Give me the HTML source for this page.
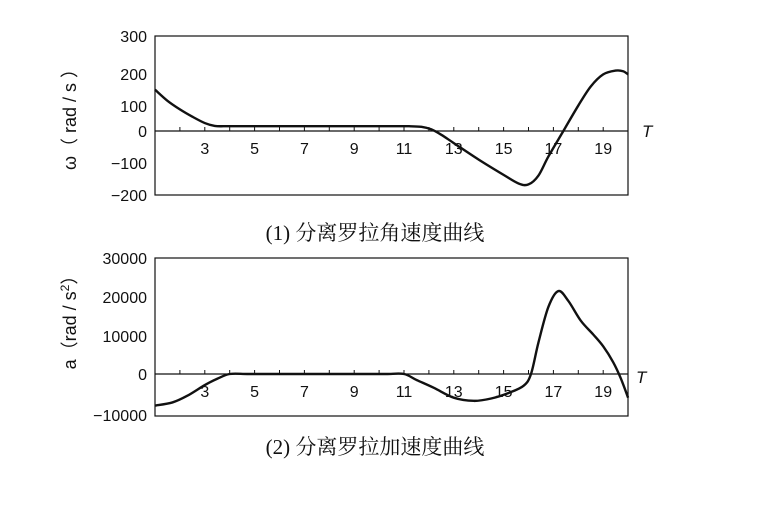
<!DOCTYPE html>
<html><head><meta charset="utf-8"><style>
body{margin:0;background:#fff;}
svg text{font-family:"Liberation Sans","Noto Sans CJK SC",sans-serif;fill:#111;}
.cap{font-family:"Liberation Serif","Noto Serif CJK SC",serif;font-size:21px;}
</style></head><body>
<svg id="s" width="760" height="502" xmlns="http://www.w3.org/2000/svg">
<g stroke="#111" fill="none" stroke-width="1.2">
<rect x="155" y="36" width="473" height="159"/>
<line x1="155" y1="131" x2="628" y2="131"/>
<rect x="155" y="258" width="473" height="158"/>
<line x1="155" y1="374" x2="628" y2="374"/>
</g>
<g id="ticks" stroke="#111" stroke-width="1"></g>
<g font-size="16" text-anchor="end">
<text x="147" y="42">300</text><text x="147" y="80">200</text><text x="147" y="112">100</text>
<text x="147" y="137">0</text><text x="147" y="169">−100</text><text x="147" y="201">−200</text>
<text x="147" y="264">30000</text><text x="147" y="303">20000</text><text x="147" y="342">10000</text>
<text x="147" y="380">0</text><text x="147" y="421">−10000</text>
</g>
<g font-size="16" text-anchor="middle" id="xl"></g>
<text x="642" y="137" font-size="17" font-style="italic">T</text>
<text x="636" y="383" font-size="17" font-style="italic">T</text>
<text transform="translate(76,115) rotate(-90)" font-size="18" text-anchor="middle">ω（ rad / s ）</text>
<text transform="translate(76,318) rotate(-90)" font-size="18" text-anchor="middle">a（rad / s<tspan font-size="12" dy="-7">2</tspan><tspan dy="7">）</tspan></text>
<text class="cap" x="375" y="240" text-anchor="middle">(1) 分离罗拉角速度曲线</text>
<text class="cap" x="375" y="454" text-anchor="middle">(2) 分离罗拉加速度曲线</text>
<path id="c1" fill="none" stroke="#111" stroke-width="2.4"/>
<path id="c2" fill="none" stroke="#111" stroke-width="2.4"/>
</svg>
<script>
var px=function(t){return 155+(t-1)*24.9};
var t1='',xl='';
for(var i=2;i<=19;i++){t1+='<line x1="'+px(i)+'" y1="131" x2="'+px(i)+'" y2="127"/><line x1="'+px(i)+'" y1="374" x2="'+px(i)+'" y2="370"/>';}
document.getElementById('ticks').innerHTML=t1;
for(var i=3;i<=19;i+=2){xl+='<text x="'+px(i)+'" y="154">'+i+'</text><text x="'+px(i)+'" y="397">'+i+'</text>';}
document.getElementById('xl').innerHTML=xl;
function cr(pts){var d='M'+pts[0][0]+','+pts[0][1];for(var i=0;i<pts.length-1;i++){var p0=pts[i-1]||pts[i],p1=pts[i],p2=pts[i+1],p3=pts[i+2]||p2;
d+=' C'+(p1[0]+(p2[0]-p0[0])/6)+','+(p1[1]+(p2[1]-p0[1])/6)+' '+(p2[0]-(p3[0]-p1[0])/6)+','+(p2[1]-(p3[1]-p1[1])/6)+' '+p2[0]+','+p2[1];}return d;}
var a=[[1,130],[1.5,95],[2,68],[2.5,45],[3,25],[3.4,16],[3.8,15],[4.5,15],[5.5,15],[6.5,15],[7.5,15],[8.5,15],[9.5,15],[10.5,15],[11.2,15],[11.7,13],[12.1,5],[12.5,-12],[13,-38],[14,-90],[15,-138],[15.6,-165],[16,-168],[16.4,-140],[16.8,-80],[17.4,0],[18,80],[18.5,140],[19,178],[19.5,190],[19.8,188],[20,178]];
var b=[[1,-8000],[1.7,-7200],[2.3,-5500],[3,-2800],[3.5,-1200],[4,0],[4.7,0],[5.5,0],[6.5,0],[7.5,0],[8.5,0],[9.5,0],[10.3,0],[11,0],[11.5,-1500],[12.2,-3500],[13,-6000],[13.8,-6800],[14.5,-6200],[15.2,-4800],[15.8,-3000],[16.1,0],[16.4,8000],[16.8,17000],[17.2,21000],[17.6,18500],[18.1,13500],[18.6,10000],[19,7000],[19.4,3000],[19.7,-1000],[20,-6000]];
document.getElementById('c1').setAttribute('d',cr(a.map(function(p){return[px(p[0]),131-p[1]*0.318]})));
document.getElementById('c2').setAttribute('d',cr(b.map(function(p){return[px(p[0]),374-p[1]*0.00395]})));
</script>
</body></html>
